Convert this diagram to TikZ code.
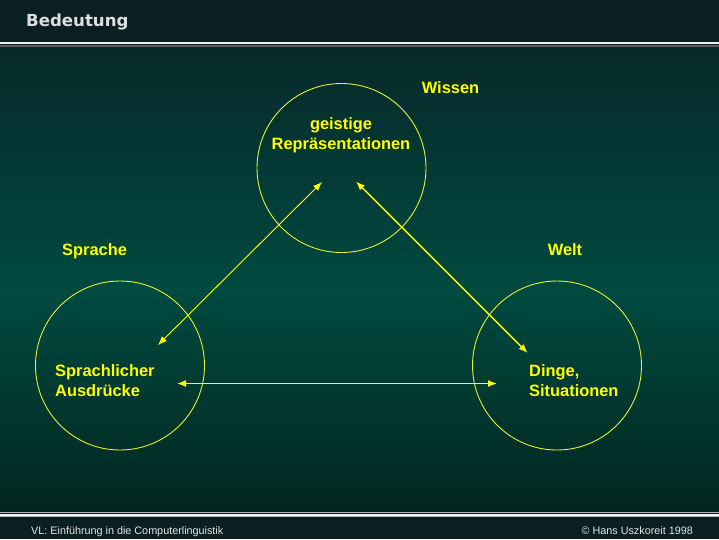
\documentclass[tikz,border=0pt]{standalone}
\usepackage{fontspec}
\setmainfont{Liberation Sans}
\newfontfamily\titlefont{DejaVu Sans}
\usetikzlibrary{arrows.meta}

\begin{document}
\begin{tikzpicture}[x=1pt, y=-1pt, >={Latex[length=9pt, width=7pt]}]
        % [Farben]
        \definecolor{bgdark}{HTML}{0A1F1F}   % Kopf- und Fusszeile
        \definecolor{bgtop}{HTML}{08292A}
        \definecolor{bgmid}{HTML}{004A40}
        \definecolor{bgbot}{HTML}{03261F}
        \definecolor{ylw}{HTML}{FFFF00}      % Beschriftung
        \definecolor{ringcol}{HTML}{E6F02C}  % Kreise

        % gemeinsame Stile
        \tikzset{
            ring/.style={circle, draw=ringcol, line width=0.9pt, minimum size=169pt, inner sep=0pt},
            lbl/.style={text=ylw, font=\fontsize{16.4}{20}\selectfont\bfseries, inner sep=0pt},
            link/.style={<->, ylw, line width=0.9pt},
            boldlink/.style={<->, ylw, line width=1.4pt},
            footer/.style={text=gray!20, font=\fontsize{10.8}{12}\selectfont, inner sep=0pt}
        }

        \useasboundingbox (0,0) rectangle (719,539);

        % --- Hintergrund ---
        \fill[bgdark] (0,0) rectangle (719,539);
        \shade[top color=bgtop, bottom color=bgmid] (0,47.3) rectangle (719,290);
        \shade[top color=bgmid, bottom color=bgbot] (0,290) rectangle (719,512);
        \fill[bgdark] (0,512) rectangle (719,539);

        % --- Kopfzeile ---
        \node[anchor=base west, inner sep=0pt, text=gray!25, font=\titlefont\fontsize{16.6}{18}\selectfont\bfseries] (title) at (26,26) {Bedeutung};
        \fill[gray!10] (0,42.3) rectangle (719,44.3);
        \fill[gray!75!black] (0,45.3) rectangle (719,47.3);

        % --- Kreise ---
        \node[ring] (geist) at (341.5,168) {};
        \node[ring] (sprache) at (120,365.5) {};
        \node[ring] (welt) at (557,365.5) {};

        % --- Beschriftung ---
        \node[lbl, anchor=base] (wissen) at (450.5,93) {Wissen};
        \node[lbl, anchor=base] (geistlbl) at (341,129.3) {geistige};
        \node[lbl, anchor=base] (reprlbl) at (341,149.3) {Repräsentationen};
        \node[lbl, anchor=base west] (sprachelbl) at (62,255) {Sprache};
        \node[lbl, anchor=base] (weltlbl) at (565,255) {Welt};
        \node[lbl, anchor=base west] (ausdr1) at (55,376) {Sprachlicher};
        \node[lbl, anchor=base west] (ausdr2) at (55,396) {Ausdrücke};
        \node[lbl, anchor=base west] (dinge1) at (529,376) {Dinge,};
        \node[lbl, anchor=base west] (dinge2) at (529,396) {Situationen};

        % --- Pfeile (Endpunkte innerhalb der Kreise) ---
        \coordinate (gl) at (322,182);
        \coordinate (gr) at (356,181.5);
        \coordinate (sr) at (158,345);
        \coordinate (sm) at (177,383.5);
        \coordinate (wl) at (527.7,353);
        \coordinate (wm) at (497,383.5);
        \draw[link] (gl) -- (sr);
        \draw[boldlink] (gr) -- (wl);
        \draw[link, line width=1.2pt] (sm) -- (wm);

        % --- Fusszeile ---
        \fill[gray!60] (0,512) rectangle (719,513.3);
        \fill[gray!10] (0,513.8) rectangle (719,515.5);
        \fill[gray!60] (0,516) rectangle (719,517);
        \node[footer, anchor=base west] (kurs) at (31,534) {VL: Einführung in die Computerlinguistik};
        \node[footer, anchor=base east] (autor) at (693,534) {© Hans Uszkoreit 1998};
    \end{tikzpicture}
\end{document}
